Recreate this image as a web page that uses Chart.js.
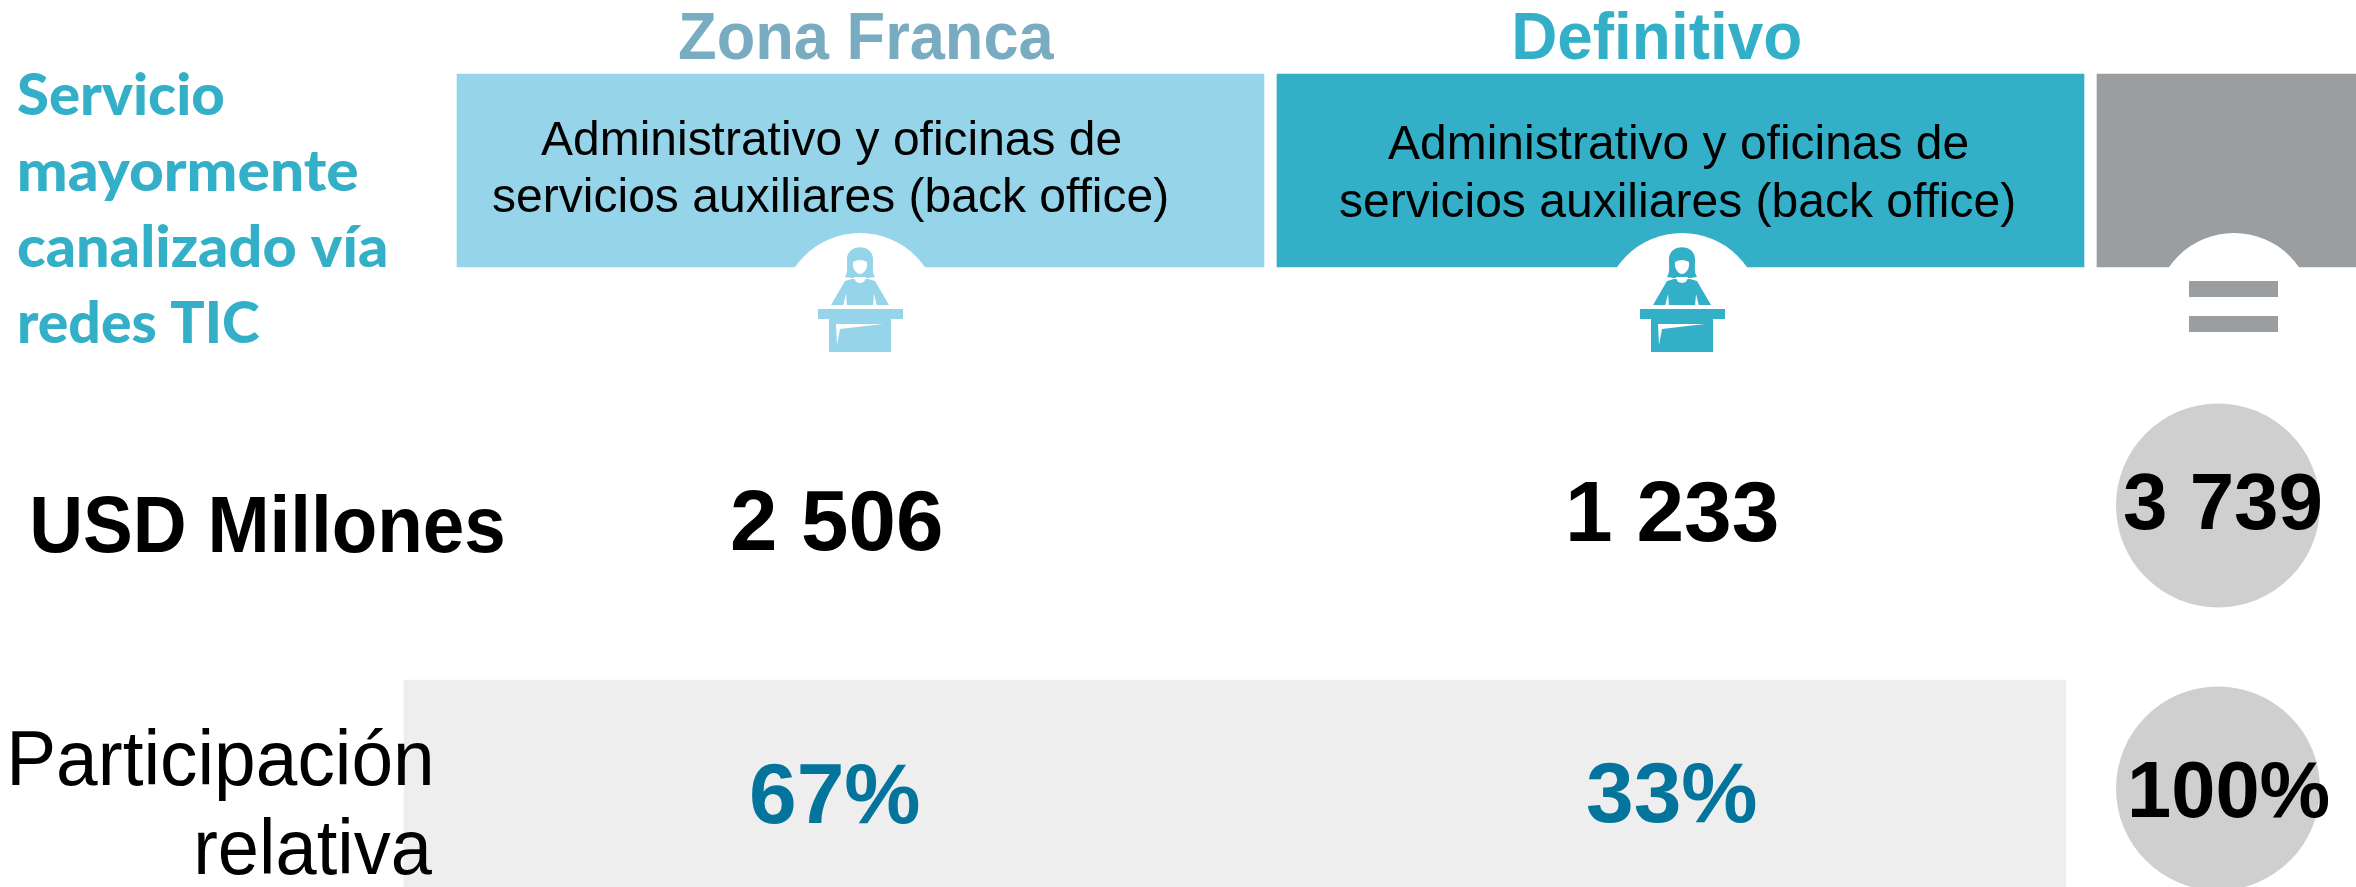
<!DOCTYPE html>
<html lang="es">
<head>
<meta charset="utf-8">
<title>Servicio mayormente canalizado vía redes TIC</title>
<script src="https://cdn.jsdelivr.net/npm/chart.js@4"></script>
<style>
  html, body { margin: 0; padding: 0; background: #fff; overflow: hidden; }
  canvas { display: block; }
</style>
</head>
<body>
<canvas id="chart" width="2356" height="887"></canvas>
<script>
/* Data */
const categories = ["Zona Franca", "Definitivo"];
const boxLines = ["Administrativo y oficinas de", "servicios auxiliares (back office)"];
const sideTitle = ["Servicio", "mayormente", "canalizado vía", "redes TIC"];
const rowLabels = ["USD Millones", "Participación", "relativa"];
const usdMillones = [2506, 1233];
const usdTotal = [3739];
const participacion = [67, 33];
const participacionTotal = [100];

/* Layout: the axes below run in page pixels, so these are axis values */
const W = 2356, H = 887;
const BOX_TOP = 74, BOX_BOTTOM = 267;
const BOXES = [[457, 1264], [1277, 2084], [2097, 2356]];
const BAND = { left: 404, right: 2066, top: 680, bottom: 887 };
const NOTCH_X = [860, 1682, 2234];
const TOTAL_X = 2218, TOTAL_Y = [505.5, 788.5], TOTAL_R = 102;

const C_LIGHT = "#96d4e9";
const C_TEAL = "#33afc8";
const C_GREY = "#9b9ea1";
const C_BAND = "#eeeeee";
const C_CIRCLE = "#d0cfd0";
const C_ZF = "#79acc0";
const C_PCT = "#03749b";
const FONT = '"Liberation Sans", Arial, sans-serif';
const FONT_SIDE = 'Lato, "Open Sans", sans-serif';

const fmtMillones = (v) => String(v).replace(/\B(?=(\d{3})+$)/g, " ");
const fmtPct = (v) => v + "%";

function boxDataset(i, color) {
  const [l, r] = BOXES[i];
  return {
    type: "bar",
    data: [{ x: (l + r) / 2, y: [BOX_TOP, BOX_BOTTOM] }],
    backgroundColor: color,
    barThickness: r - l,
    grouped: false,
    borderSkipped: false,
    borderWidth: 0,
  };
}

// text fitted so its ink runs from x0 to x1 (the source image was stretched)
function fitText(ctx, str, x0, x1, base, font, color) {
  ctx.save();
  ctx.font = font;
  ctx.fillStyle = color;
  ctx.textAlign = "left";
  ctx.textBaseline = "alphabetic";
  const m = ctx.measureText(str);
  const ink = m.actualBoundingBoxRight + m.actualBoundingBoxLeft;
  const k = (x1 - x0) / ink;
  ctx.translate(x0 + m.actualBoundingBoxLeft * k, base);
  ctx.scale(k, 1);
  ctx.fillText(str, 0, 0);
  ctx.restore();
}

function drawNotch(ctx, x, sx, sy) {
  ctx.save();
  ctx.beginPath();
  ctx.rect(sx(x - 90), sy(BOX_TOP), sx(x + 90) - sx(x - 90), sy(BOX_BOTTOM + 1) - sy(BOX_TOP));
  ctx.clip();
  ctx.fillStyle = "#fff";
  ctx.beginPath();
  ctx.arc(sx(x), sy(312), 79, 0, Math.PI * 2);
  ctx.fill();
  ctx.restore();
}

// woman at a desk, offsets are from the icon's axis
function drawIcon(ctx, cx, color) {
  const p = (pts, fill) => {
    ctx.fillStyle = fill;
    ctx.beginPath();
    pts.forEach((q, i) => (i ? ctx.lineTo(cx + q[0], q[1]) : ctx.moveTo(cx + q[0], q[1])));
    ctx.closePath();
    ctx.fill();
  };
  // hair
  ctx.fillStyle = color;
  ctx.beginPath();
  ctx.moveTo(cx - 13, 260);
  ctx.bezierCurveTo(cx - 14, 243, cx + 14, 243, cx + 13, 260);
  ctx.bezierCurveTo(cx + 13, 268, cx + 12, 272, cx + 15, 277);
  ctx.lineTo(cx + 8, 278);
  ctx.lineTo(cx - 8, 278);
  ctx.lineTo(cx - 15, 277);
  ctx.bezierCurveTo(cx - 12, 272, cx - 13, 268, cx - 13, 260);
  ctx.fill();
  // face
  ctx.fillStyle = "#fff";
  ctx.beginPath();
  ctx.moveTo(cx - 7, 262);
  ctx.quadraticCurveTo(cx, 258, cx + 7, 262);
  ctx.bezierCurveTo(cx + 8, 268, cx + 4, 274, cx, 274);
  ctx.bezierCurveTo(cx - 4, 274, cx - 8, 268, cx - 7, 262);
  ctx.fill();
  // torso
  p([[-15, 281], [-8, 279], [8, 279], [15, 281], [29, 305], [-29, 305]], color);
  // collar
  ctx.fillStyle = "#fff";
  ctx.beginPath();
  ctx.arc(cx, 277, 6, 0, Math.PI);
  ctx.fill();
  // arm gaps
  p([[-17, 306], [-14, 294], [-13, 306]], "#fff");
  p([[17, 306], [14, 294], [13, 306]], "#fff");
  // desk
  p([[-42, 309], [43, 309], [43, 319], [-42, 319]], color);
  p([[-31, 319], [31, 319], [31, 352], [-31, 352]], color);
  p([[-24, 324], [23, 324], [-20, 329], [-23, 345]], "#fff");
}

const pagePlugin = {
  id: "page",
  afterDatasetsDraw(chart) {
    const ctx = chart.ctx;
    const sx = (v) => chart.scales.x.getPixelForValue(v);
    const sy = (v) => chart.scales.y.getPixelForValue(v);

    NOTCH_X.forEach((x) => drawNotch(ctx, x, sx, sy));
    drawIcon(ctx, sx(NOTCH_X[0]), C_LIGHT);
    drawIcon(ctx, sx(NOTCH_X[1]), C_TEAL);
    ctx.fillStyle = C_GREY;
    ctx.fillRect(sx(2189), sy(281), 89, 16);
    ctx.fillRect(sx(2189), sy(316), 89, 16);

    const bold = (n) => `bold ${n}px ${FONT}`;
    // column titles
    fitText(ctx, categories[0], 679, 1055, 59, bold(66), C_ZF);
    fitText(ctx, categories[1], 1515, 1800, 59, bold(66), C_TEAL);
    // box texts
    const reg = `49px ${FONT}`;
    fitText(ctx, boxLines[0], 541, 1121, 155, reg, "#000");
    fitText(ctx, boxLines[1], 493, 1167, 212, reg, "#000");
    fitText(ctx, boxLines[0], 1388, 1968, 159, reg, "#000");
    fitText(ctx, boxLines[1], 1340, 2014, 217, reg, "#000");
    // side title
    const side = `900 57px ${FONT_SIDE}`;
    fitText(ctx, sideTitle[0], 18, 224, 115, side, C_TEAL);
    fitText(ctx, sideTitle[1], 20, 357, 191, side, C_TEAL);
    fitText(ctx, sideTitle[2], 18, 386, 267, side, C_TEAL);
    fitText(ctx, sideTitle[3], 20, 260, 343, side, C_TEAL);
    // row labels
    fitText(ctx, rowLabels[0], 33, 503, 552, bold(79), "#000");
    fitText(ctx, rowLabels[1], 12, 430, 785, `77px ${FONT}`, "#000");
    fitText(ctx, rowLabels[2], 198, 432, 874, `77px ${FONT}`, "#000");
    // values
    fitText(ctx, fmtMillones(usdMillones[0]), 732, 941, 550, bold(85), "#000");
    fitText(ctx, fmtMillones(usdMillones[1]), 1570, 1777, 541, bold(85), "#000");
    fitText(ctx, fmtPct(participacion[0]), 752, 919, 823, bold(85), C_PCT);
    fitText(ctx, fmtPct(participacion[1]), 1587, 1756, 822, bold(85), C_PCT);
    fitText(ctx, fmtMillones(usdTotal[0]), 2124, 2320, 529, bold(79), "#000");
    fitText(ctx, fmtPct(participacionTotal[0]), 2131, 2329, 817, bold(79), "#000");
  },
};

new Chart(document.getElementById("chart"), {
  data: {
    datasets: [
      {
        type: "bubble",
        data: [
          { x: TOTAL_X, y: TOTAL_Y[0], r: TOTAL_R },
          { x: TOTAL_X, y: TOTAL_Y[1], r: TOTAL_R },
        ],
        backgroundColor: C_CIRCLE,
        borderWidth: 0,
      },
      boxDataset(0, C_LIGHT),
      boxDataset(1, C_TEAL),
      boxDataset(2, C_GREY),
      {
        type: "bar",
        data: [{ x: (BAND.left + BAND.right) / 2, y: [BAND.top, BAND.bottom] }],
        backgroundColor: C_BAND,
        barThickness: BAND.right - BAND.left,
        grouped: false,
        borderSkipped: false,
        borderWidth: 0,
      },
    ],
  },
  options: {
    responsive: false,
    animation: false,
    layout: { padding: 0, autoPadding: false },
    events: [],
    plugins: { legend: { display: false }, tooltip: { enabled: false } },
    scales: {
      x: { type: "linear", min: 0, max: W, offset: false, display: false },
      y: { type: "linear", min: 0, max: H, reverse: true, display: false },
    },
  },
  plugins: [pagePlugin],
});
</script>
</body>
</html>
